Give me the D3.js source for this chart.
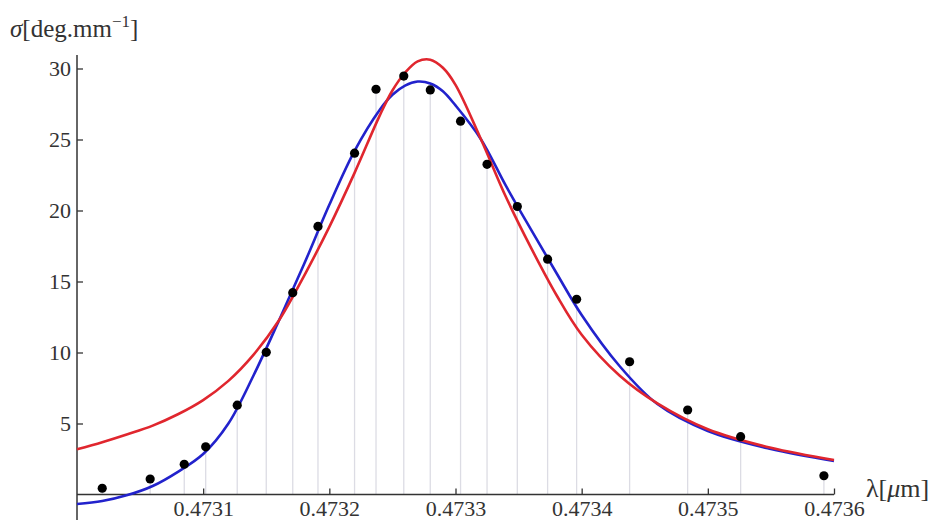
<!DOCTYPE html>
<html>
<head>
<meta charset="utf-8">
<script src="https://cdn.jsdelivr.net/npm/d3@7"></script>
<style>
body { margin:0; background:#fff; }
</style>
</head>
<body>
<svg id="chart"></svg>
<script>
//measured points (wavelength in micrometres, sigma in deg/mm)
var pointLambda = [0.473020, 0.473058, 0.473085, 0.473102, 0.473127, 0.473150, 0.473171,
                   0.473191, 0.473220, 0.473237, 0.473259, 0.473280, 0.473304, 0.473325,
                   0.473349, 0.473373, 0.473396, 0.473438, 0.473484, 0.473526, 0.473592];
var pointSigma = [0.44, 1.09, 2.13, 3.36, 6.29, 10.01, 14.21,
                  18.88, 24.04, 28.54, 29.47, 28.49, 26.29, 23.25,
                  20.28, 16.57, 13.75, 9.35, 5.95, 4.07, 1.32];

//the two fitted curves at these wavelengths
var curveLambda = [0.47300, 0.47302, 0.47304, 0.47306, 0.47308, 0.47310, 0.47312, 0.47314,
                   0.47316, 0.47318, 0.47320, 0.47322, 0.47324, 0.47325, 0.47326, 0.47327,
                   0.47328, 0.47329, 0.47330, 0.47332, 0.47334, 0.47336, 0.47338, 0.47340,
                   0.47343, 0.47346, 0.47350, 0.47355, 0.47360];
var blueSigma = [-0.67, -0.46, -0.04, 0.6, 1.6, 2.85, 5.0, 8.4,
                 12.24, 16.23, 20.4, 24.2, 27.1, 28.15, 28.8, 29.08,
                 28.95, 28.4, 27.4, 25.04, 21.73, 18.63, 15.60, 12.64,
                 9.05, 6.37, 4.47, 3.20, 2.36];
var redSigma = [3.18, 3.68, 4.24, 4.85, 5.65, 6.65, 8.0, 9.85,
                12.25, 15.4, 18.85, 22.65, 26.7, 28.45, 29.7, 30.5,
                30.62, 30.05, 28.85, 25.05, 20.95, 17.35, 14.05, 11.25,
                8.38, 6.42, 4.6, 3.29, 2.43];

var xTicks = [0.4731, 0.4732, 0.4733, 0.4734, 0.4735, 0.4736];
var yTicks = [5, 10, 15, 20, 25, 30];

var serif = "'Liberation Serif', 'Times New Roman', Tinos, 'DejaVu Serif', serif";
var screen = {width:935, height:520};

var svg = d3.select("#chart")
    .attr("width", screen.width)
    .attr("height", screen.height);

var xScale = d3.scaleLinear()
    .domain([0.4730, 0.4736])
    .range([77, 834]);

var yScale = d3.scaleLinear()
    .domain([0, 30])
    .range([494.5, 68.5]);

//drop lines from every point down to the axis
svg.append("g")
    .selectAll("line")
    .data(pointLambda)
    .enter()
    .append("line")
    .attr("x1", function(d) { return xScale(d); })
    .attr("x2", function(d) { return xScale(d); })
    .attr("y1", yScale(0))
    .attr("y2", function(d, i) { return yScale(pointSigma[i]); })
    .attr("stroke", "#dcdce4")
    .attr("stroke-width", 1.3);

//axes: ticks point into the plot
var xAxis = d3.axisBottom(xScale)
    .tickValues(xTicks)
    .tickFormat(d3.format(".4f"))
    .tickSizeInner(-6)
    .tickSizeOuter(0)
    .tickPadding(6);

var yAxis = d3.axisLeft(yScale)
    .tickValues(yTicks)
    .tickSizeInner(-6)
    .tickSizeOuter(0)
    .tickPadding(6);

var gx = svg.append("g")
    .attr("transform", "translate(0," + yScale(0) + ")")
    .call(xAxis);
var gy = svg.append("g")
    .attr("transform", "translate(" + xScale(0.4730) + ",0)")
    .call(yAxis);

[gx, gy].forEach(function(g)
{
    g.attr("font-family", serif).attr("font-size", 22);
    g.select(".domain").remove();
    g.selectAll(".tick line").attr("stroke", "#333").attr("stroke-width", 1.3);
    g.selectAll(".tick text").attr("fill", "#333");
});

//axis lines drawn by hand so they run the full plot range
svg.append("line")
    .attr("x1", xScale(0.4730)).attr("x2", xScale(0.4736))
    .attr("y1", yScale(0)).attr("y2", yScale(0))
    .attr("stroke", "#333").attr("stroke-width", 1.5);
svg.append("line")
    .attr("x1", xScale(0.4730)).attr("x2", xScale(0.4730))
    .attr("y1", yScale(30.95)).attr("y2", screen.height)
    .attr("stroke", "#333").attr("stroke-width", 1.5);

var line = d3.line()
    .x(function(d) { return xScale(d[0]); })
    .y(function(d) { return yScale(d[1]); })
    .curve(d3.curveCatmullRom.alpha(0.5));

svg.append("path")
    .datum(d3.zip(curveLambda, blueSigma))
    .attr("d", line)
    .attr("fill", "none")
    .attr("stroke", "#2222cc")
    .attr("stroke-width", 2.6);

svg.append("path")
    .datum(d3.zip(curveLambda, redSigma))
    .attr("d", line)
    .attr("fill", "none")
    .attr("stroke", "#e0262e")
    .attr("stroke-width", 2.6);

svg.append("g")
    .selectAll("circle")
    .data(pointLambda)
    .enter()
    .append("circle")
    .attr("cx", function(d) { return xScale(d); })
    .attr("cy", function(d, i) { return yScale(pointSigma[i]); })
    .attr("r", 4.6)
    .attr("fill", "#000");

//axis titles
var yTitle = svg.append("text")
    .attr("x", 10)
    .attr("y", 37)
    .attr("font-family", serif)
    .attr("font-size", 25)
    .attr("fill", "#333");
yTitle.append("tspan").attr("font-style", "italic").text("σ");
yTitle.append("tspan").text("[deg.mm");
yTitle.append("tspan").attr("dy", -10).attr("font-size", 17).text("−1");
yTitle.append("tspan").attr("dy", 10).text("]");

var xTitle = svg.append("text")
    .attr("x", 866)
    .attr("y", 497)
    .attr("font-family", serif)
    .attr("font-size", 26)
    .attr("fill", "#333");
xTitle.append("tspan").text("λ[");
xTitle.append("tspan").attr("font-style", "italic").text("μ");
xTitle.append("tspan").text("m]");
</script>
</body>
</html>
